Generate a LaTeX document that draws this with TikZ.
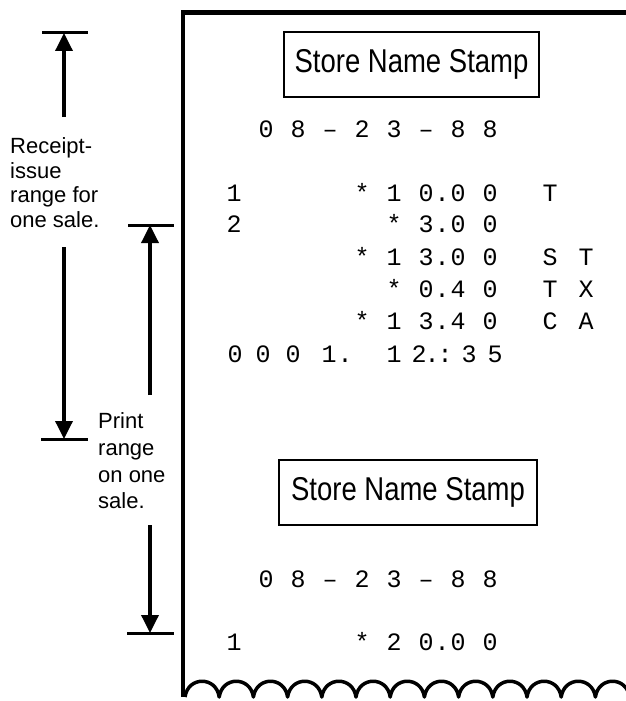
\documentclass[tikz,border=0pt]{standalone}
\usepackage{fontspec}
\setmainfont{Liberation Sans}
\newfontfamily\rmono{Liberation Mono}
\usetikzlibrary{arrows.meta}
\newcommand\tallstamp[1]{\scalebox{1}[1.2]{#1}}
\begin{document}
\begin{tikzpicture}[x=1pt,y=-1pt,
  ch/.style={font=\rmono\fontsize{25}{25}\selectfont, inner sep=0pt, anchor=base},
  lbl/.style={font=\fontsize{22}{22}\selectfont, inner sep=0pt, anchor=base west},
  stamp/.style={draw, line width=2.5pt, minimum width=255pt, minimum height=65pt, inner sep=0pt, font=\fontsize{27.5}{27.5}\selectfont},
  bar/.style={line width=3pt},
  dimarrow/.style={line width=3.5pt, -{Triangle[length=18pt,width=17pt]}},
  border/.style={line width=4.5pt},
  wavy/.style={line width=3.5pt, line join=round}
]
\useasboundingbox (0,0) rectangle (626,701);
\fill[white] (0,0) rectangle (626,701);

% receipt paper
\coordinate (tr) at (632,12.5);
\coordinate (tl) at (183,12.5);
\coordinate (bl) at (183,697);
\draw[border] (tr) -- (tl) -- (bl);
\draw[wavy] (185,697) \foreach \n in {0,...,12}{ .. controls ({185+34.2*\n+3},676) and ({185+34.2*(\n+1)-3},676) .. ({185+34.2*(\n+1)},697) };

% stamps
\node[stamp] (stamp1) at (411.5,64.5) {\tallstamp{Store Name Stamp}};
\node[stamp, minimum width=258pt] (stamp2) at (408,492.5) {\tallstamp{Store Name Stamp}};

% date lines
\foreach \x/\c [count=\i] in {266/0,298/8,330/–,362/2,394/3,426/–,458/8,490/8}
  \node[ch] (da\i) at (\x,137.5) {\c};
\foreach \x/\c [count=\i] in {266/0,298/8,330/–,362/2,394/3,426/–,458/8,490/8}
  \node[ch] (db\i) at (\x,587) {\c};

% rows
\foreach \x/\c [count=\i] in {234/1,362/*,394/1,426/0,442/.,458/0,490/0,550/T}
  \node[ch] (ra\i) at (\x,201) {\c};
\foreach \x/\c [count=\i] in {234/2,394/*,426/3,442/.,458/0,490/0}
  \node[ch] (rb\i) at (\x,232.5) {\c};
\foreach \x/\c [count=\i] in {362/*,394/1,426/3,442/.,458/0,490/0,550/S,586/T}
  \node[ch] (rc\i) at (\x,265) {\c};
\foreach \x/\c [count=\i] in {394/*,426/0,442/.,458/4,490/0,550/T,586/X}
  \node[ch] (rd\i) at (\x,297) {\c};
\foreach \x/\c [count=\i] in {362/*,394/1,426/3,442/.,458/4,490/0,550/C,586/A}
  \node[ch] (re\i) at (\x,329.5) {\c};
\foreach \x/\c [count=\i] in {235/0,263/0,293/0,329/1,345/.,394/1,419/2,432/.,445/:,469/3,495/5}
  \node[ch] (rf\i) at (\x,362) {\c};
\foreach \x/\c [count=\i] in {234/1,362/*,394/2,426/0,442/.,458/0,490/0}
  \node[ch] (rg\i) at (\x,650) {\c};

% labels
\node[lbl] (rl1) at (10,153) {Receipt-};
\node[lbl] (rl2) at (10,178) {issue};
\node[lbl] (rl3) at (10,202.5) {range for};
\node[lbl] (rl4) at (10,227) {one sale.};
\node[lbl] (pl1) at (98,428) {Print};
\node[lbl] (pl2) at (98,455) {range};
\node[lbl] (pl3) at (98,482) {on one};
\node[lbl] (pl4) at (98,508) {sale.};

% receipt-issue range dimension
\coordinate (rTop) at (64,33);
\coordinate (rTopL) at (42,33);
\coordinate (rTopR) at (88,33);
\coordinate (rS1) at (64,117);
\coordinate (rS2) at (64,247);
\coordinate (rBot) at (64,439);
\coordinate (rBotL) at (41,439);
\coordinate (rBotR) at (88,439);
\draw[bar] (rTopL) -- (rTopR);
\draw[bar] (rBotL) -- (rBotR);
\draw[dimarrow] (rS1) -- (rTop);
\draw[dimarrow] (rS2) -- (rBot);

% print range dimension
\coordinate (pTop) at (150,225);
\coordinate (pTopL) at (128,225);
\coordinate (pTopR) at (174,225);
\coordinate (pS1) at (150,395);
\coordinate (pS2) at (150,525);
\coordinate (pBot) at (150,633);
\coordinate (pBotL) at (127,633);
\coordinate (pBotR) at (174,633);
\draw[bar] (pTopL) -- (pTopR);
\draw[bar] (pBotL) -- (pBotR);
\draw[dimarrow] (pS1) -- (pTop);
\draw[dimarrow] (pS2) -- (pBot);
\end{tikzpicture}
\end{document}
